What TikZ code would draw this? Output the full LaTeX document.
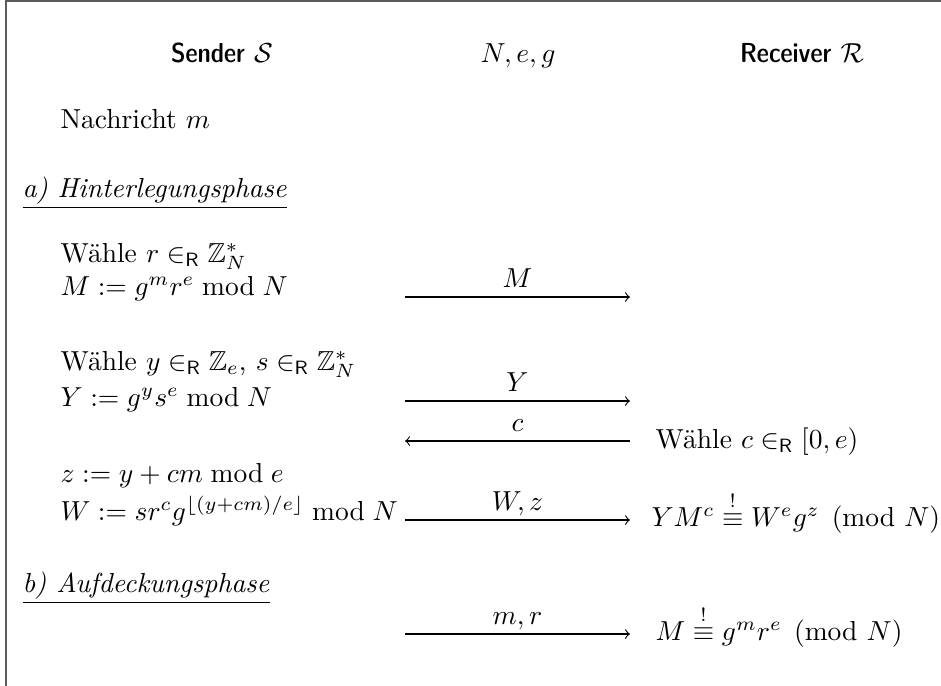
\documentclass[tikz,border=0pt]{standalone}
\usepackage{amsmath,amssymb}
\usetikzlibrary{arrows.meta}
\definecolor{frameGray}{HTML}{5A5A5A}
\tikzset{
  frame line/.style={draw=frameGray, line width=0.75pt},
  msg arrow/.style={draw=black, line width=0.4pt, -to},
  party/.style={anchor=base, inner sep=0pt},
  calc text/.style={anchor=base west, inner sep=0pt},
  msg label/.style={anchor=base, inner sep=0pt, yshift=3.6pt},
}
\newcommand{\inR}{\in_{\mathsf{R}}}
\newcommand{\chk}{\overset{!}{\equiv}}
\newcommand{\partyname}[1]{{\fontseries{sbc}\sffamily #1}}

\begin{document}
\begin{tikzpicture}[x=0.3636pt, y=-0.3636pt]
  \useasboundingbox (0,0) rectangle (941,685);

  % Frame (cut off at right and bottom)
  \draw[frame line] (6,690) -- (6,1) -- (945,1);

  % Parties
  \node[party] (snd) at (222,62) {\partyname{Sender} $\mathcal{S}$};
  \node[party] (pub) at (518,62) {$N, e, g$};
  \node[party] (rcv) at (802,62) {\partyname{Receiver} $\mathcal{R}$};

  \node[calc text] (msg) at (60,128) {Nachricht $m$};

  % a) Commit phase
  \node[calc text] (phA) at (22,197) {\underline{\textit{a)\ Hinterlegungsphase}}};

  \node[calc text] (selR) at (60,262) {W\"ahle $r \inR \mathbb{Z}_N^*$};
  \node[calc text] (defM) at (60,295) {$M := g^m r^e \bmod N$};
  \coordinate (mS) at (405,297);
  \coordinate (mR) at (630,297);
  \draw[msg arrow] (mS) -- node[msg label] (lblM) {$M$} (mR);

  \node[calc text] (selY) at (60,370) {W\"ahle $y \inR \mathbb{Z}_e$, $s \inR \mathbb{Z}_N^*$};
  \node[calc text] (defY) at (60,406) {$Y := g^y s^e \bmod N$};
  \coordinate (yS) at (405,401);
  \coordinate (yR) at (630,401);
  \draw[msg arrow] (yS) -- node[msg label] (lblY) {$Y$} (yR);

  \coordinate (cS) at (405,441);
  \coordinate (cR) at (630,441);
  \draw[msg arrow] (cR) -- node[msg label] (lblC) {$c$} (cS);
  \node[calc text] (selC) at (655,448) {W\"ahle $c \inR [0,e)$};

  \node[calc text] (defZ) at (60,482) {$z := y + cm \bmod e$};
  \node[calc text] (defW) at (60,520) {$W := s r^c g^{\lfloor (y+cm)/e \rfloor} \bmod N$};
  \coordinate (wS) at (405,520);
  \coordinate (wR) at (630,520);
  \draw[msg arrow] (wS) -- node[msg label] (lblW) {$W, z$} (wR);
  \node[calc text] (chkW) at (651,526) {$Y M^c \chk W^e g^z \pmod{N}$};

  % b) Reveal phase
  \node[calc text] (phB) at (22,592) {\underline{\textit{b)\ Aufdeckungsphase}}};

  \coordinate (rS) at (405,634);
  \coordinate (rR) at (630,634);
  \draw[msg arrow] (rS) -- node[msg label] (lblR) {$m, r$} (rR);
  \node[calc text] (chkM) at (655,640) {$M \chk g^m r^e \pmod{N}$};
\end{tikzpicture}
\end{document}
